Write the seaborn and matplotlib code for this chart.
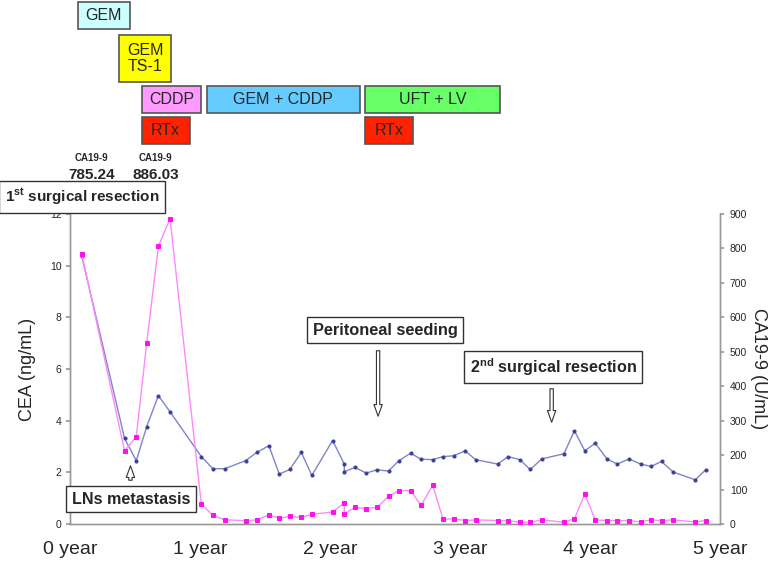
import matplotlib
matplotlib.use("Agg")
import matplotlib.pyplot as plt
import matplotlib.transforms as mtransforms
from matplotlib.patches import Rectangle
import seaborn as sns
import pandas as pd

# time after first surgery (years)
years = [0.09, 0.42, 0.51, 0.59, 0.68, 0.77, 1.01,
         1.10, 1.19, 1.35, 1.44, 1.53, 1.61, 1.69, 1.78, 1.86, 2.02,
         2.11, 2.11, 2.19, 2.28, 2.36, 2.45, 2.53, 2.62, 2.70, 2.79, 2.87, 2.95,
         3.04, 3.12, 3.29, 3.37, 3.46, 3.54, 3.63, 3.80, 3.88, 3.96,
         4.04, 4.13, 4.21, 4.30, 4.39, 4.47, 4.55, 4.64, 4.81, 4.89]

cea = [10.38, 3.31, 2.45, 3.77, 4.97, 4.34, 2.61,
       2.14, 2.14, 2.45, 2.78, 3.03, 1.93, 2.11, 2.77, 1.88, 3.23,
       2.32, 2.02, 2.19, 1.97, 2.10, 2.05, 2.45, 2.74, 2.51, 2.49, 2.61, 2.64,
       2.83, 2.49, 2.32, 2.61, 2.49, 2.11, 2.52, 2.72, 3.61, 2.83,
       3.13, 2.52, 2.32, 2.52, 2.32, 2.23, 2.42, 2.01, 1.71, 2.10]

ca199 = [785, 212, 254, 525, 807, 886, 58,
         25, 12, 10, 12, 27, 16, 22, 19, 28, 35,
         61, 29, 48, 45, 48, 80, 97, 97, 54, 112, 14, 15,
         10, 12, 10, 10, 5, 5, 12, 5, 15, 87,
         12, 10, 10, 10, 6, 12, 10, 12, 6, 10]

year_ticks = [0, 1, 2, 3, 4, 5]
year_labels = ["0 year", "1 year", "2 year", "3 year", "4 year", "5 year"]
cea_ticks = [0, 2, 4, 6, 8, 10, 12]
ca_ticks = [0, 100, 200, 300, 400, 500, 600, 700, 800, 900]

# treatment bars: (label, start year, end year, row top px, row bottom px, colour)
treatments = [
    ("GEM", 0.06, 0.46, 2, 29, "#ccffff"),
    ("GEM\nTS-1", 0.375, 0.78, 35, 82, "#ffff00"),
    ("CDDP", 0.55, 1.01, 86, 113, "#ff99ff"),
    ("GEM + CDDP", 1.05, 2.23, 86, 113, "#66ccff"),
    ("UFT + LV", 2.27, 3.31, 86, 113, "#66ff66"),
    ("RTx", 0.55, 0.92, 117, 144, "#ff2200"),
    ("RTx", 2.27, 2.64, 117, 144, "#ff2200"),
]

df = pd.DataFrame({"year": years, "cea": cea, "ca199": ca199})

sns.set_theme(style="white")
plt.rcParams["font.family"] = ["Liberation Sans", "DejaVu Sans"]
plt.rcParams["mathtext.fontset"] = "custom"
plt.rcParams["mathtext.rm"] = "Liberation Sans:bold"
plt.rcParams["mathtext.bf"] = "Liberation Sans:bold"

W, H = 778, 561
fig = plt.figure(figsize=(W / 100, H / 100), dpi=100)
fig.patch.set_facecolor("white")
ax = fig.add_axes([70 / W, 37 / H, 650 / W, 310 / H])
ax2 = ax.twinx()

sns.lineplot(data=df, x="year", y="cea", ax=ax, estimator=None, sort=False,
             color="#8084c8", lw=1.0, marker="o", markersize=2.2,
             markerfacecolor="#3a3f9a", markeredgecolor="#3a3f9a", zorder=3)
sns.lineplot(data=df, x="year", y="ca199", ax=ax2, estimator=None, sort=False,
             color="#ff88ff", lw=1.0, marker="s", markersize=3,
             markerfacecolor="#ff11ee", markeredgecolor="#ff11ee", zorder=3)

ax.set_xlim(0, 4.97)
ax.set_ylim(0, 12)
ax2.set_ylim(0, 900)
ax.set_xticks(year_ticks)
ax.set_xticklabels(year_labels, fontsize=14)
ax.set_yticks(cea_ticks)
ax.set_yticklabels(cea_ticks, fontsize=7.5)
ax2.set_yticks(ca_ticks)
ax2.set_yticklabels(ca_ticks, fontsize=7.5)
ax.set_xlabel("")
ax.set_ylabel("CEA (ng/mL)", fontsize=13, labelpad=10)
ax2.set_ylabel("CA19-9 (U/mL)", fontsize=13, rotation=270, labelpad=14)
ax.tick_params(axis="x", direction="in", length=4, color="#999999", pad=12)
ax.tick_params(axis="y", direction="out", length=3, color="#999999", pad=3)
ax2.tick_params(axis="y", direction="out", length=3, color="#999999", pad=4)

for a in (ax, ax2):
    a.grid(False)
    a.spines["top"].set_visible(False)
    for s in ("left", "bottom", "right"):
        a.spines[s].set_color("#999999")
        a.spines[s].set_linewidth(1.0)
ax.set_facecolor("none")


def fy(py):
    return 1 - py / H


# treatment boxes above the plot, x in data years, y in figure space
trans = mtransforms.blended_transform_factory(ax.transData, fig.transFigure)
for label, x0, x1, top, bot, col in treatments:
    fig.patches.append(Rectangle((x0, fy(bot)), x1 - x0, (bot - top) / H,
                                 transform=trans, facecolor=col,
                                 edgecolor="#555555", lw=1.2))
    fig.text((x0 + x1) / 2, fy((top + bot) / 2), label, transform=trans,
             ha="center", va="center", fontsize=11.5, linespacing=1.1)

# CA19-9 values at top
for x, val in [(0.165, "785.24"), (0.66, "886.03")]:
    fig.text(x, fy(158), "CA19-9", transform=trans, ha="center", va="center",
             fontsize=7, fontweight="bold")
    fig.text(x, fy(175), val, transform=trans, ha="center", va="center",
             fontsize=11, fontweight="bold")

box = dict(boxstyle="square,pad=0.35", facecolor="white", edgecolor="#333333", lw=1.0)
fig.text(82 / W, fy(197), r"1$^{\rm st}$ surgical resection", ha="center", va="center",
         fontsize=11, fontweight="bold", bbox=box)
fig.text(385 / W, fy(330), "Peritoneal seeding", ha="center", va="center",
         fontsize=11.8, fontweight="bold", bbox=box)
fig.text(553 / W, fy(367), r"2$^{\rm nd}$ surgical resection", ha="center", va="center",
         fontsize=11.6, fontweight="bold", bbox=box)
fig.text(131 / W, fy(499), "LNs metastasis", ha="center", va="center",
         fontsize=11.6, fontweight="bold", bbox=box)

arrow = dict(arrowstyle="simple,head_width=0.5,head_length=0.7,tail_width=0.2",
             facecolor="white", edgecolor="#333333", lw=0.8)
ax.annotate("", xy=(2.37, fy(419)), xytext=(2.37, fy(348)),
            xycoords=("data", "figure fraction"), textcoords=("data", "figure fraction"),
            arrowprops=arrow)
ax.annotate("", xy=(3.705, fy(425)), xytext=(3.705, fy(386)),
            xycoords=("data", "figure fraction"), textcoords=("data", "figure fraction"),
            arrowprops=arrow)
ax.annotate("", xy=(0.465, fy(463)), xytext=(0.465, fy(483)),
            xycoords=("data", "figure fraction"), textcoords=("data", "figure fraction"),
            arrowprops=arrow)

fig.savefig("out.png", dpi=100)
